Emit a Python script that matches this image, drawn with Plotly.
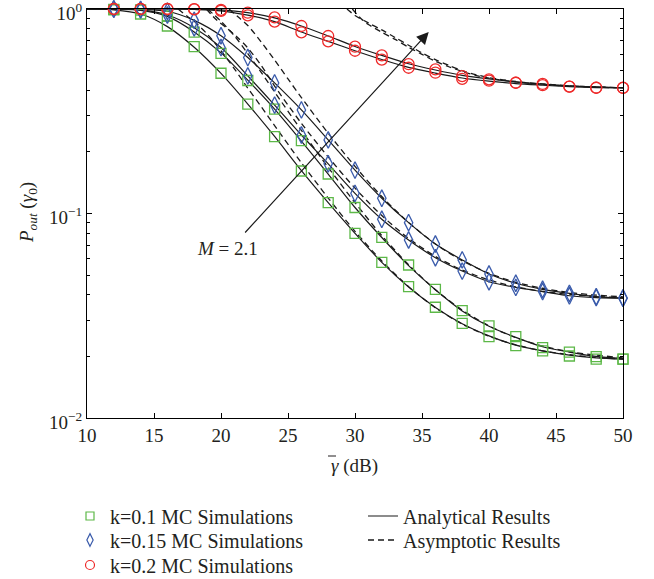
import math
import plotly.graph_objects as go

# ---------------- data ----------------
snr_line = [10, 12, 14, 16, 18, 20, 22, 24, 26, 28, 30, 32, 34, 36, 38, 40, 42, 44, 46, 48, 50]
snr_mc = [12, 14, 16, 18, 20, 22, 24, 26, 28, 30, 32, 34, 36, 38, 40, 42, 44, 46, 48, 50]

# analytical results (solid)
an_g1 = [1.0, 0.99, 0.945, 0.82, 0.65, 0.484, 0.343, 0.238, 0.162, 0.113, 0.080, 0.0577, 0.0437, 0.0347, 0.0289, 0.0252, 0.0227, 0.0213, 0.0203, 0.0197, 0.0194]
an_g2 = [1.0, 0.996, 0.985, 0.92, 0.772, 0.61, 0.449, 0.324, 0.226, 0.156, 0.107, 0.0763, 0.0556, 0.0424, 0.0334, 0.0281, 0.0248, 0.0223, 0.0210, 0.0200, 0.0195]
an_b1 = [1.0, 1.0, 0.99, 0.935, 0.81, 0.648, 0.471, 0.339, 0.242, 0.175, 0.1255, 0.0937, 0.0742, 0.0608, 0.0523, 0.0464, 0.0435, 0.0415, 0.0396, 0.0388, 0.0385]
an_b2 = [1.0, 1.0, 0.995, 0.975, 0.88, 0.74, 0.579, 0.435, 0.321, 0.229, 0.163, 0.1187, 0.0902, 0.0709, 0.0593, 0.0506, 0.0456, 0.0426, 0.0407, 0.0392, 0.0386]
an_r1 = [1.0, 1.0, 1.0, 1.0, 0.995, 0.98, 0.933, 0.867, 0.772, 0.695, 0.625, 0.566, 0.518, 0.486, 0.460, 0.444, 0.432, 0.424, 0.417, 0.413, 0.411]
an_r2 = [1.0, 1.0, 1.0, 1.0, 0.998, 0.99, 0.96, 0.905, 0.826, 0.738, 0.656, 0.593, 0.540, 0.503, 0.474, 0.455, 0.440, 0.429, 0.421, 0.416, 0.412]

# Monte Carlo simulations (markers)
mc_g1 = [0.99, 0.945, 0.826, 0.654, 0.485, 0.343, 0.2375, 0.1614, 0.113, 0.080, 0.0577, 0.0439, 0.0348, 0.0290, 0.0250, 0.0226, 0.0213, 0.0201, 0.0194, 0.0194]
mc_g2 = [0.996, 0.989, 0.924, 0.77, 0.607, 0.447, 0.324, 0.227, 0.156, 0.107, 0.0765, 0.0560, 0.0426, 0.0335, 0.0282, 0.0250, 0.0221, 0.0210, 0.01995, 0.0194]
mc_b1 = [1.0, 0.99, 0.935, 0.81, 0.648, 0.471, 0.339, 0.242, 0.175, 0.1255, 0.0937, 0.0742, 0.0608, 0.0523, 0.0464, 0.0435, 0.0415, 0.0396, 0.0388, 0.0385]
mc_b2 = [1.0, 0.995, 0.975, 0.88, 0.74, 0.579, 0.435, 0.321, 0.229, 0.163, 0.1187, 0.0902, 0.0709, 0.0593, 0.0506, 0.0456, 0.0426, 0.0407, 0.0392, 0.0386]
mc_r1 = [1.0, 1.0, 1.0, 0.995, 0.98, 0.931, 0.867, 0.769, 0.695, 0.625, 0.566, 0.516, 0.488, 0.455, 0.446, 0.436, 0.424, 0.417, 0.412, 0.411]
mc_r2 = [1.0, 1.0, 1.0, 0.998, 0.99, 0.959, 0.910, 0.826, 0.738, 0.654, 0.593, 0.537, 0.507, 0.470, 0.453, 0.436, 0.430, 0.417, 0.412, 0.412]

# asymptotic results (dashed)
as_g1_x = [16.8, 17.5, 18, 19, 20, 21, 22, 23, 24, 26, 28, 30, 32, 34, 36, 38, 40, 42, 44, 46, 48, 50]
as_g1_y = [1.0, 0.92, 0.87, 0.75, 0.625, 0.51, 0.41, 0.333, 0.269, 0.177, 0.119, 0.0818, 0.0586, 0.0439, 0.0346, 0.0288, 0.0251, 0.0228, 0.0213, 0.0204, 0.0198, 0.0194]
as_g2_x = [19.0, 20, 21, 22, 23, 24, 26, 28, 30, 32, 34, 36, 38, 40, 42, 44, 46, 48, 50]
as_g2_y = [1.0, 0.87, 0.74, 0.605, 0.49, 0.393, 0.255, 0.168, 0.113, 0.078, 0.0562, 0.0424, 0.0337, 0.0282, 0.0247, 0.0225, 0.0211, 0.0203, 0.0197]
as_b1_x = [18.9, 19.7, 20.5, 21.3, 22, 23, 24, 26, 28, 30, 32, 34, 36, 38, 40, 42, 44, 46, 48, 50]
as_b1_y = [1.0, 0.88, 0.80, 0.72, 0.645, 0.53, 0.42, 0.276, 0.189, 0.133, 0.0977, 0.0756, 0.0617, 0.0529, 0.0473, 0.0438, 0.0416, 0.0402, 0.0393, 0.0388]
as_b2_x = [20.6, 21.4, 22, 23, 24, 25, 26, 28, 30, 32, 34, 36, 38, 40, 42, 44, 46, 48, 50]
as_b2_y = [1.0, 0.90, 0.83, 0.69, 0.563, 0.455, 0.369, 0.247, 0.170, 0.121, 0.0904, 0.0710, 0.0587, 0.0510, 0.0461, 0.0431, 0.0411, 0.0399, 0.0391]
as_r1_x = [29.4, 30, 31, 32, 33, 34, 35, 36, 37, 38, 39, 40, 42, 44, 46, 48, 50]
as_r1_y = [1.0, 0.93, 0.855, 0.79, 0.725, 0.665, 0.61, 0.565, 0.53, 0.50, 0.478, 0.462, 0.442, 0.43, 0.421, 0.416, 0.412]
as_r2_x = [29.8, 30.5, 31, 32, 33, 34, 35, 36, 37, 38, 39, 40, 42, 44, 46, 48, 50]
as_r2_y = [1.0, 0.89, 0.84, 0.77, 0.71, 0.65, 0.60, 0.555, 0.522, 0.495, 0.474, 0.459, 0.44, 0.428, 0.42, 0.415, 0.411]

x_ticks = [10, 15, 20, 25, 30, 35, 40, 45, 50]
y_ticks = [0.01, 0.1, 1]
y_ticktext = ["10<sup>\u22122</sup>", "10<sup>\u22121</sup>", "10<sup>0</sup>"]
y_minor = [0.02, 0.03, 0.04, 0.05, 0.06, 0.07, 0.08, 0.09,
           0.2, 0.3, 0.4, 0.5, 0.6, 0.7, 0.8, 0.9]

legend_names = ["k=0.1 MC Simulations", "k=0.15 MC Simulations", "k=0.2 MC Simulations",
                "Analytical Results", "Asymptotic Results"]

# ---------------- styling ----------------
FONT = "Liberation Serif, Times New Roman, serif"
TXT = "#231f20"
GREEN = "#5cb847"
BLUE = "#3a5bab"
RED = "#ee2a2a"
LINE_W = 1.2
FS = 19
FS_LEG = 20

fig = go.Figure()

# analytical (solid)
for i, ys in enumerate([an_g1, an_g2, an_b1, an_b2, an_r1, an_r2]):
    fig.add_trace(go.Scatter(
        x=snr_line, y=ys, mode="lines",
        line=dict(color="#1a1a1a", width=LINE_W, shape="spline", smoothing=0.8),
        name=legend_names[3], showlegend=(i == 0), legend="legend4",
        hoverinfo="skip"))

# asymptotic (dashed)
for i, (xs, ys) in enumerate([(as_g1_x, as_g1_y), (as_g2_x, as_g2_y), (as_b1_x, as_b1_y),
                              (as_b2_x, as_b2_y), (as_r1_x, as_r1_y), (as_r2_x, as_r2_y)]):
    fig.add_trace(go.Scatter(
        x=xs, y=ys, mode="lines",
        line=dict(color="#1a1a1a", width=1.3, dash="6px,4px", shape="spline", smoothing=0.8),
        name=legend_names[4], showlegend=(i == 0), legend="legend5",
        hoverinfo="skip"))

# MC markers
marker_sets = [
    (mc_g1, GREEN, "square-open", 10),
    (mc_g2, GREEN, "square-open", 10),
    (mc_b1, BLUE, "diamond-tall-open", 12),
    (mc_b2, BLUE, "diamond-tall-open", 12),
    (mc_r1, RED, "circle-open", 11),
    (mc_r2, RED, "circle-open", 11),
]
for ys, col, sym, size in marker_sets:
    fig.add_trace(go.Scatter(
        x=snr_mc, y=ys, mode="markers",
        marker=dict(symbol=sym, size=size, color=col, line=dict(color=col, width=1.3)),
        showlegend=False, cliponaxis=False, hoverinfo="skip"))

# legend-only entries (smaller symbols, as in the reference legend)
legend_markers = [
    (legend_names[0], GREEN, "square-open", 8, "legend"),
    (legend_names[1], BLUE, "diamond-tall-open", 9, "legend2"),
    (legend_names[2], RED, "circle-open", 9, "legend3"),
]
for nm, col, sym, size, lg in legend_markers:
    fig.add_trace(go.Scatter(
        x=[None], y=[None], mode="markers", name=nm, legend=lg,
        marker=dict(symbol=sym, size=size, color=col, line=dict(color=col, width=1.2)),
        hoverinfo="skip"))

axis_common = dict(showline=True, linecolor="black", linewidth=1.3, mirror="ticks",
                   ticks="inside", ticklen=5, tickcolor="black", tickwidth=1,
                   showgrid=False, zeroline=False, ticklabeloverflow="allow",
                   tickfont=dict(family=FONT, size=FS, color=TXT))

PLOT_L, PLOT_R, PLOT_T, PLOT_B = 87, 623, 9, 418
W, H = 654, 579


def px_to_paper(px, py):
    return (px - PLOT_L) / (PLOT_R - PLOT_L), (PLOT_B - py) / (PLOT_B - PLOT_T)


def legend_box(px, py):
    lx, ly = px_to_paper(px, py)
    return dict(x=lx, y=ly, xanchor="left", yanchor="middle", orientation="v",
                bgcolor="rgba(0,0,0,0)", borderwidth=0, itemsizing="trace",
                font=dict(family=FONT, size=FS_LEG, color=TXT))


fig.update_layout(
    width=W, height=H,
    margin=dict(l=PLOT_L, r=W - PLOT_R, t=PLOT_T, b=H - PLOT_B, autoexpand=False),
    plot_bgcolor="white", paper_bgcolor="white",
    font=dict(family=FONT, size=FS, color=TXT),
    xaxis=dict(range=[10, 50], tickvals=x_ticks, **axis_common),
    yaxis=dict(type="log", range=[-2, 0], tickvals=y_ticks, ticktext=y_ticktext,
               ticklabelshift=4,
               minor=dict(tickvals=y_minor, ticks="inside", ticklen=3,
                          tickcolor="black", showgrid=False),
               **axis_common),
    legend=legend_box(70, 516),
    legend2=legend_box(70, 540),
    legend3=legend_box(70, 565),
    legend4=legend_box(363, 516),
    legend5=legend_box(363, 540),
    showlegend=True,
    hovermode=False,
)

# arrow with label  (positions in data units; y given as log10 for the log axis)
arrow_tail = (21.7, 0.0794)
arrow_head = (35.5, 0.772)
label_pos = (20.5, 0.0678)
fig.add_annotation(x=arrow_head[0], y=math.log10(arrow_head[1]),
                   ax=arrow_tail[0], ay=math.log10(arrow_tail[1]),
                   xref="x", yref="y", axref="x", ayref="y",
                   showarrow=True, arrowhead=2, arrowsize=2.0, arrowwidth=1.2,
                   arrowcolor="#1a1a1a", text="")
fig.add_annotation(x=label_pos[0], y=math.log10(label_pos[1]), xref="x", yref="y",
                   xanchor="center", yanchor="middle",
                   text="<i>M</i> = 2.1", showarrow=False,
                   font=dict(family=FONT, size=FS, color=TXT))

# axis titles
tx, ty = px_to_paper(354, 466)
fig.add_annotation(x=tx, y=ty, xref="paper", yref="paper", xanchor="center", yanchor="middle",
                   text="<i>\u03b3</i> (dB)", showarrow=False,
                   font=dict(family=FONT, size=FS, color=TXT))
# bar over gamma
b0x, b0y = px_to_paper(328, 456)
b1x, _ = px_to_paper(336, 456)
fig.add_shape(type="line", xref="paper", yref="paper", x0=b0x, x1=b1x, y0=b0y, y1=b0y,
              line=dict(color=TXT, width=1))
yx, yy = px_to_paper(28, 213)
fig.add_annotation(x=yx, y=yy, xref="paper", yref="paper", textangle=-90,
                   xanchor="center", yanchor="middle",
                   text="<i>P<sub>out</sub></i> (<i>\u03b3</i><sub>0</sub>)", showarrow=False,
                   font=dict(family=FONT, size=FS, color=TXT))

# the page body has a default 8px margin; remove it so the figure sits at the window's corner
fig.write_html("out.html", config={"displayModeBar": False},
               post_script="document.body.style.margin='0px';")
